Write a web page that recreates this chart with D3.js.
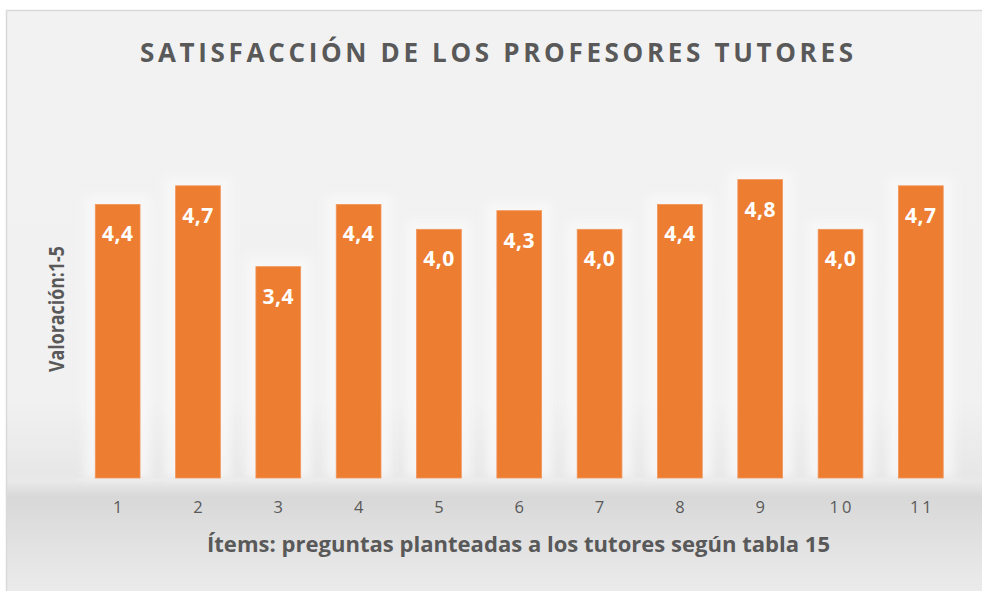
<!DOCTYPE html>
<html>
<head>
<meta charset="utf-8">
<script src="https://cdn.jsdelivr.net/npm/d3@7"></script>
<style>
  html, body { margin: 0; padding: 0; background: #ffffff; }
  svg { display: block; }
</style>
</head>
<body>
<svg id="chart" width="982" height="591"></svg>
<script>
// Items evaluated and their average rating (scale 1–5)
const items = ["1", "2", "3", "4", "5", "6", "7", "8", "9", "10", "11"];
const ratings = [4.4, 4.7, 3.4, 4.4, 4.0, 4.3, 4.0, 4.4, 4.8, 4.0, 4.7];
const chartTitle = "SATISFACCIÓN DE LOS PROFESORES TUTORES";
const yTitle = "Valoración:1-5";
const xTitle = "Ítems: preguntas planteadas a los tutores según tabla 15";

const W = 982, H = 591;
const svg = d3.select("#chart");
const defs = svg.append("defs");

// Background gradient of the chart area (flat top, darker band under the floor)
const bg = defs.append("linearGradient")
  .attr("id", "bgGrad").attr("gradientUnits", "userSpaceOnUse")
  .attr("x1", 0).attr("y1", 0).attr("x2", 0).attr("y2", H);
[[0, "#f2f2f2"], [400, "#f1f1f1"], [476, "#e7e7e7"], [481, "#e9e9e9"],
 [497, "#d8d8d8"], [540, "#e1e1e1"], [591, "#ebebeb"]]
  .forEach(([y, c]) => bg.append("stop").attr("offset", y / H).attr("stop-color", c));

// Soft halo behind each bar
defs.append("filter").attr("id", "halo")
  .attr("x", "-50%").attr("y", "-20%").attr("width", "200%").attr("height", "140%")
  .append("feGaussianBlur").attr("stdDeviation", 5);

// Chart frame
svg.append("rect")
  .attr("x", 6.5).attr("y", 10.5).attr("width", W).attr("height", H)
  .attr("fill", "url(#bgGrad)").attr("stroke", "#d9d9d9").attr("stroke-width", 1.5);

// Scales
const x = d3.scaleBand().domain(items).range([77.5, 961])
  .paddingInner(0.443).paddingOuter(0.2215);
const y = d3.scaleLinear().domain([0, 6]).range([478, 105]);

const data = items.map((k, i) => ({ item: k, value: ratings[i] }));

// Halos
svg.append("g").selectAll("rect").data(data).join("rect")
  .attr("x", d => x(d.item) - 11)
  .attr("y", d => y(d.value) - 9)
  .attr("width", x.bandwidth() + 22)
  .attr("height", d => y(0) - y(d.value) + 9)
  .attr("fill", "#f9f9f9").attr("opacity", 0.75)
  .attr("filter", "url(#halo)");

// Floor line of the plot area
svg.append("rect")
  .attr("x", 77.5).attr("y", y(0)).attr("width", 961 - 77.5).attr("height", 3)
  .attr("fill", "#ececec");

// Bars
svg.append("g").selectAll("rect").data(data).join("rect")
  .attr("x", d => x(d.item))
  .attr("y", d => y(d.value))
  .attr("width", x.bandwidth())
  .attr("height", d => y(0) - y(d.value))
  .attr("fill", "#ED7D31")
  .attr("stroke", "#F2955A").attr("stroke-width", 0.8);

// Value labels inside the bars
const fmt = v => v.toFixed(1).replace(".", ",");
svg.append("g").selectAll("text").data(data).join("text")
  .attr("x", d => x(d.item) + x.bandwidth() / 2)
  .attr("y", d => y(d.value) + 37)
  .attr("text-anchor", "middle")
  .attr("font-family", "'Open Sans', sans-serif")
  .attr("font-weight", 700).attr("font-size", 21)
  .attr("letter-spacing", 0.5)
  .attr("fill", "#ffffff")
  .text(d => fmt(d.value));

// Category axis (labels only)
const xAxis = svg.append("g")
  .attr("transform", `translate(0,${y(0)})`)
  .call(d3.axisBottom(x).tickSize(0).tickPadding(0));
xAxis.select(".domain").remove();
xAxis.selectAll("text")
  .attr("y", 35).attr("dy", 0).attr("dx", 1.5)
  .attr("fill", "#595959")
  .attr("font-family", "'Open Sans', sans-serif")
  .attr("font-size", 16.5)
  .attr("letter-spacing", 3);

// Chart title
svg.append("text")
  .attr("x", 140).attr("y", 62)
  .attr("textLength", 713).attr("lengthAdjust", "spacing")
  .attr("font-family", "'Open Sans', sans-serif")
  .attr("font-weight", 700).attr("font-size", 26)
  .attr("fill", "#595959")
  .text(chartTitle);

// Axis titles
svg.append("text")
  .attr("transform", "translate(64,372) rotate(-90)")
  .attr("textLength", 126).attr("lengthAdjust", "spacingAndGlyphs")
  .attr("font-family", "'Open Sans', sans-serif")
  .attr("font-weight", 700).attr("font-size", 21)
  .attr("fill", "#595959")
  .text(yTitle);

svg.append("text")
  .attr("x", 207).attr("y", 552)
  .attr("textLength", 623).attr("lengthAdjust", "spacingAndGlyphs")
  .attr("font-family", "'Open Sans', sans-serif")
  .attr("font-weight", 700).attr("font-size", 22)
  .attr("fill", "#595959")
  .text(xTitle);
</script>
</body>
</html>
